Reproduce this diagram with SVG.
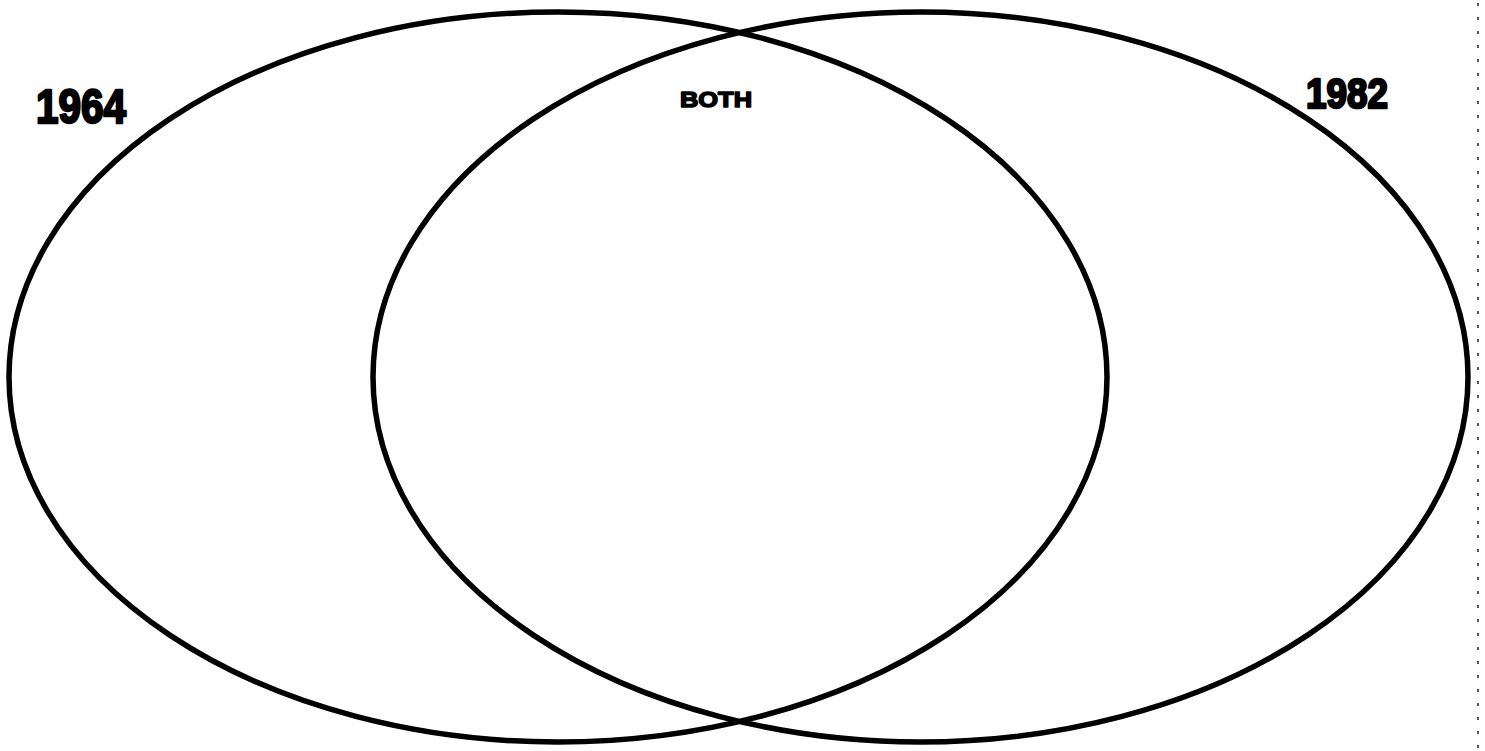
<svg xmlns="http://www.w3.org/2000/svg" width="1485" height="751" viewBox="0 0 1485 751">
<style>
.ring{fill:none;stroke:#000;stroke-width:5.5}
.lbl{font-family:"Liberation Sans",Arial,sans-serif;font-weight:bold;fill:#000;stroke:#000;stroke-linejoin:round}
</style>
<rect width="1485" height="751" fill="#fff"/>
<line x1="1478" y1="3" x2="1478" y2="751" stroke="#555" stroke-width="2" stroke-dasharray="3 11"/>
<g id="set-1964">
<ellipse class="ring" cx="558" cy="377" rx="549" ry="365"/>
<text class="lbl" x="36" y="123" font-size="48" stroke-width="2.5" textLength="90" lengthAdjust="spacingAndGlyphs">1964</text>
</g>
<g id="set-1982">
<ellipse class="ring" cx="920.5" cy="377" rx="547.5" ry="365"/>
<text class="lbl" x="1306" y="108" font-size="42" stroke-width="2.5" textLength="82" lengthAdjust="spacingAndGlyphs">1982</text>
</g>
<g id="both">
<text class="lbl" x="680" y="107" font-size="22" stroke-width="1.5" textLength="72" lengthAdjust="spacingAndGlyphs">BOTH</text>
</g>
<g id="connectors"/>
</svg>
